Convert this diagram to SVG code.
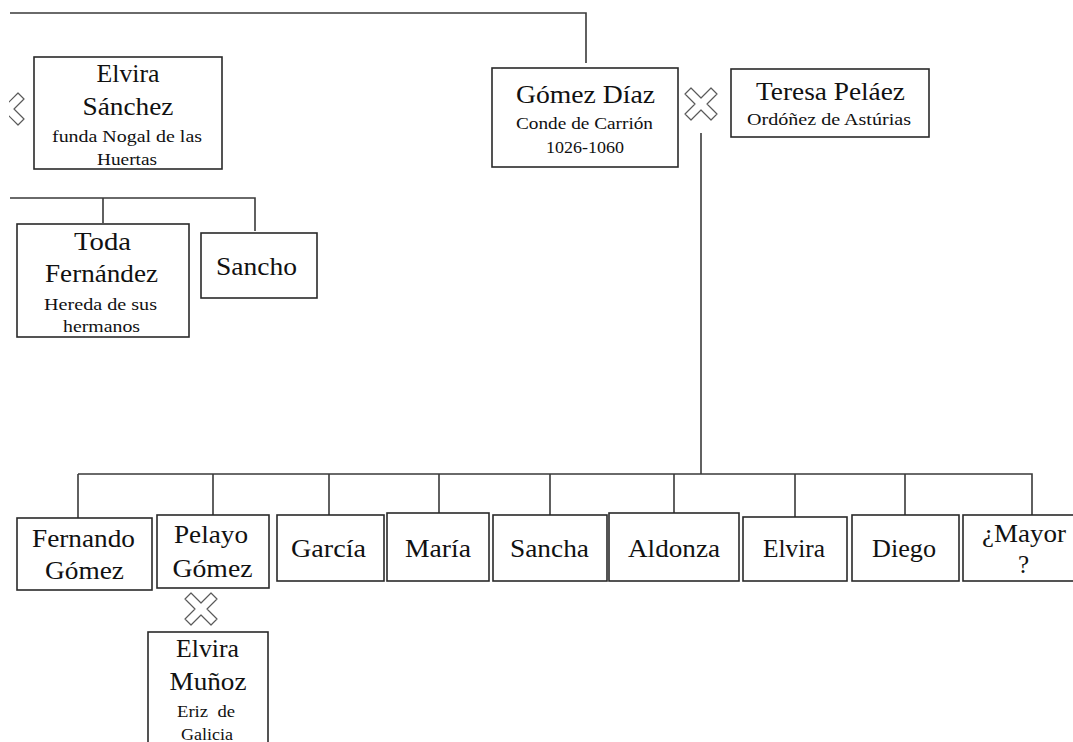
<svg xmlns="http://www.w3.org/2000/svg" width="1073" height="742" viewBox="0 0 1073 742">
  <style>
    .box { fill: #ffffff; stroke: #2a2a2a; stroke-width: 1.6; }
    .link { fill: none; stroke: #3a3a3a; stroke-width: 1.6; }
    .marry { fill: #ffffff; stroke: #5a5a5a; stroke-width: 1.2; stroke-linejoin: round; }
    text { font-family: "Liberation Serif", "Times New Roman", serif; fill: #111111; text-anchor: middle; }
    .nm { font-size: 25px; }
    .sm { font-size: 17px; }
  </style>
  <defs>
    <!-- marriage sign: outlined X -->
    <polygon id="x" points="-16,-10 -10,-16 0,-6 10,-16 16,-10 6,0 16,10 10,16 0,6 -10,16 -16,10 -6,0"/>
    <clipPath id="edge"><rect x="9" y="0" width="1064" height="742"/></clipPath>
  </defs>
  <rect width="1073" height="742" fill="#ffffff"/>

  <g id="connectors">
    <path class="link" d="M10 13 H586 V63"/>
    <path class="link" d="M10 198 H255 V231 M103 198 V223"/>
    <path class="link" d="M701 133 V474"/>
    <path class="link" d="M78 474 H1032 V515 M78 474 V518 M213 474 V515 M329 474 V515 M439 474 V513 M550 474 V515 M674 474 V513 M795 474 V517 M905 474 V515"/>
  </g>

  <g id="marriages">
    <g clip-path="url(#edge)">
      <use href="#x" class="marry" transform="translate(8,109)"/>
    </g>
    <use href="#x" class="marry" transform="translate(701,104)"/>
    <use href="#x" class="marry" transform="translate(201,609)"/>
  </g>

  <g id="elvira-sanchez">
    <rect class="box" x="34" y="57" width="188" height="112"/>
    <text class="nm" x="128" y="82" textLength="63" lengthAdjust="spacingAndGlyphs">Elvira</text>
    <text class="nm" x="128" y="115" textLength="91" lengthAdjust="spacingAndGlyphs">Sánchez</text>
    <text class="sm" x="127" y="142" textLength="150" lengthAdjust="spacingAndGlyphs">funda Nogal de las</text>
    <text class="sm" x="127" y="165" textLength="60" lengthAdjust="spacingAndGlyphs">Huertas</text>
  </g>

  <g id="gomez-diaz">
    <rect class="box" x="492" y="68" width="186" height="99"/>
    <text class="nm" x="585.5" y="103" textLength="139" lengthAdjust="spacingAndGlyphs">Gómez Díaz</text>
    <text class="sm" x="584.5" y="129" textLength="137" lengthAdjust="spacingAndGlyphs">Conde de Carrión</text>
    <text class="sm" x="585" y="153" textLength="78" lengthAdjust="spacingAndGlyphs">1026-1060</text>
  </g>

  <g id="teresa-pelaez">
    <rect class="box" x="731" y="69" width="198" height="68"/>
    <text class="nm" x="830.5" y="100" textLength="149" lengthAdjust="spacingAndGlyphs">Teresa Peláez</text>
    <text class="sm" x="829" y="125" textLength="164" lengthAdjust="spacingAndGlyphs">Ordóñez de Astúrias</text>
  </g>

  <g id="toda-fernandez">
    <rect class="box" x="17" y="224" width="172" height="113"/>
    <text class="nm" x="102.5" y="250" textLength="57" lengthAdjust="spacingAndGlyphs">Toda</text>
    <text class="nm" x="101.5" y="282" textLength="113" lengthAdjust="spacingAndGlyphs">Fernández</text>
    <text class="sm" x="100.5" y="310" textLength="113" lengthAdjust="spacingAndGlyphs">Hereda de sus</text>
    <text class="sm" x="101.5" y="332" textLength="77" lengthAdjust="spacingAndGlyphs">hermanos</text>
  </g>

  <g id="sancho">
    <rect class="box" x="201" y="233" width="116" height="65"/>
    <text class="nm" x="256.5" y="275" textLength="81" lengthAdjust="spacingAndGlyphs">Sancho</text>
  </g>

  <g id="fernando-gomez">
    <rect class="box" x="17" y="518" width="135" height="72"/>
    <text class="nm" x="83.5" y="547" textLength="103" lengthAdjust="spacingAndGlyphs">Fernando</text>
    <text class="nm" x="84.5" y="579" textLength="79" lengthAdjust="spacingAndGlyphs">Gómez</text>
  </g>

  <g id="pelayo-gomez">
    <rect class="box" x="157" y="515" width="112" height="73"/>
    <text class="nm" x="211" y="543" textLength="74" lengthAdjust="spacingAndGlyphs">Pelayo</text>
    <text class="nm" x="212.5" y="577" textLength="80" lengthAdjust="spacingAndGlyphs">Gómez</text>
  </g>

  <g id="garcia">
    <rect class="box" x="277" y="515" width="107" height="66"/>
    <text class="nm" x="328.5" y="557" textLength="75" lengthAdjust="spacingAndGlyphs">García</text>
  </g>

  <g id="maria">
    <rect class="box" x="387" y="513" width="102" height="68"/>
    <text class="nm" x="438" y="557" textLength="66" lengthAdjust="spacingAndGlyphs">María</text>
  </g>

  <g id="sancha">
    <rect class="box" x="493" y="515" width="114" height="66"/>
    <text class="nm" x="549.5" y="557" textLength="79" lengthAdjust="spacingAndGlyphs">Sancha</text>
  </g>

  <g id="aldonza">
    <rect class="box" x="609" y="513" width="130" height="68"/>
    <text class="nm" x="674" y="557" textLength="92" lengthAdjust="spacingAndGlyphs">Aldonza</text>
  </g>

  <g id="elvira">
    <rect class="box" x="743" y="517" width="104" height="64"/>
    <text class="nm" x="794" y="557" textLength="62" lengthAdjust="spacingAndGlyphs">Elvira</text>
  </g>

  <g id="diego">
    <rect class="box" x="852" y="515" width="107" height="66"/>
    <text class="nm" x="904" y="557" textLength="64" lengthAdjust="spacingAndGlyphs">Diego</text>
  </g>

  <g id="mayor">
    <rect class="box" x="963" y="515" width="115" height="66"/>
    <text class="nm" x="1024" y="542" textLength="84" lengthAdjust="spacingAndGlyphs">¿Mayor</text>
    <text class="nm" x="1023.5" y="573">?</text>
  </g>

  <g id="elvira-munoz">
    <rect class="box" x="148" y="632" width="120" height="120"/>
    <text class="nm" x="207.5" y="657" textLength="63" lengthAdjust="spacingAndGlyphs">Elvira</text>
    <text class="nm" x="208" y="690" textLength="77" lengthAdjust="spacingAndGlyphs">Muñoz</text>
    <text class="sm" x="206" y="717" textLength="58" lengthAdjust="spacingAndGlyphs" xml:space="preserve">Eriz  de</text>
    <text class="sm" x="207" y="740" textLength="52" lengthAdjust="spacingAndGlyphs">Galicia</text>
  </g>
</svg>
